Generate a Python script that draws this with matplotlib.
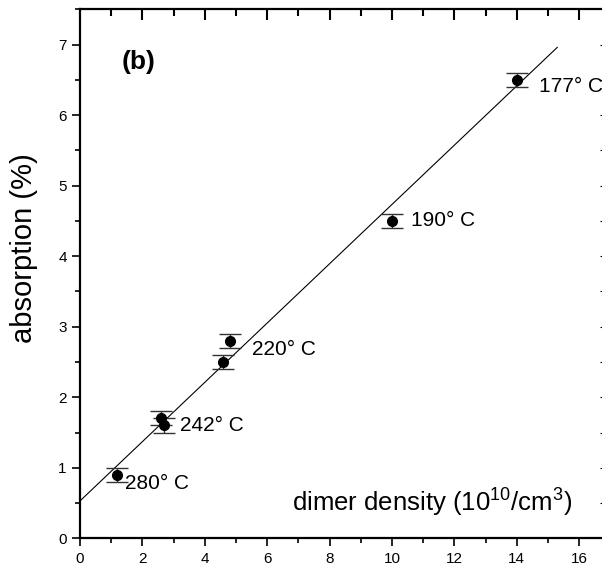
import matplotlib
matplotlib.use('Agg')
import matplotlib.pyplot as plt
from matplotlib.ticker import MultipleLocator

plt.rcParams['font.family'] = ['Liberation Sans', 'DejaVu Sans']
plt.rcParams['mathtext.fontset'] = 'custom'
plt.rcParams['mathtext.rm'] = 'Liberation Sans'

density = [1.2, 2.6, 2.7, 4.6, 4.8, 10.0, 14.0]
absorption = [0.9, 1.7, 1.6, 2.5, 2.8, 4.5, 6.5]
err = [0.1, 0.1, 0.1, 0.1, 0.1, 0.1, 0.1]

fit_x = [0.0, 15.3]
fit_y = [0.53, 6.96]

temp_labels = ['280° C', '242° C', '220° C', '190° C', '177° C']
label_x = [1.45, 3.2, 5.5, 10.6, 14.7]
label_y = [0.77, 1.6, 2.68, 4.5, 6.4]

fig = plt.figure(figsize=(6.02, 5.70), dpi=100)
ax = fig.add_axes([0.1329, 0.0556, 0.8705, 0.9281])

ax.plot(fit_x, fit_y, color='black', linewidth=0.8)
ax.errorbar(density, absorption, yerr=err, fmt='o', color='black',
            markersize=7, ecolor='#333333', elinewidth=1.0, capsize=8, capthick=1.0)

for t, lx, ly in zip(temp_labels, label_x, label_y):
    ax.text(lx, ly, t, fontsize=15, va='center', ha='left')

ax.text(1.35, 6.75, '(b)', fontsize=19, fontweight='bold', va='center', ha='left')
ax.text(6.8, 0.52, r'dimer density (10$^{10}$/cm$^{3}$)', fontsize=18.5, va='center', ha='left')
fig.text(24 / 602, 1 - 248 / 570, 'absorption (%)', fontsize=21, rotation=90,
         ha='center', va='center')

ax.set_xlim(0, 16.8)
ax.set_ylim(0, 7.5)
ax.xaxis.set_major_locator(MultipleLocator(2))
ax.xaxis.set_minor_locator(MultipleLocator(1))
ax.yaxis.set_major_locator(MultipleLocator(1))
ax.yaxis.set_minor_locator(MultipleLocator(0.5))

ax.tick_params(which='both', direction='out', labelsize=11, width=1.2)
ax.tick_params(which='major', length=6)
ax.tick_params(which='minor', length=3.5)
ax.spines['right'].set_visible(False)
for s in ['left', 'bottom', 'top']:
    ax.spines[s].set_linewidth(1.6)

# top ticks pointing inward (short lines hanging from the top spine)
xt = ax.get_xaxis_transform()
major_x = [2, 4, 6, 8, 10, 12, 14, 16]
minor_x = [1, 3, 5, 7, 9, 11, 13, 15]
ax.vlines(major_x, 0.98, 1.0, transform=xt, colors='black', linewidth=1.5, clip_on=False, zorder=5)
ax.vlines(minor_x, 0.988, 1.0, transform=xt, colors='black', linewidth=1.5, clip_on=False, zorder=5)

# right ticks at the very edge
yt = ax.get_yaxis_transform()
right_y = [t / 2 for t in range(1, 15)]
ax.hlines(right_y, 0.993, 1.0, transform=yt, colors='black', linewidth=0.8, clip_on=False, zorder=5)

fig.savefig('out.png', dpi=100)
